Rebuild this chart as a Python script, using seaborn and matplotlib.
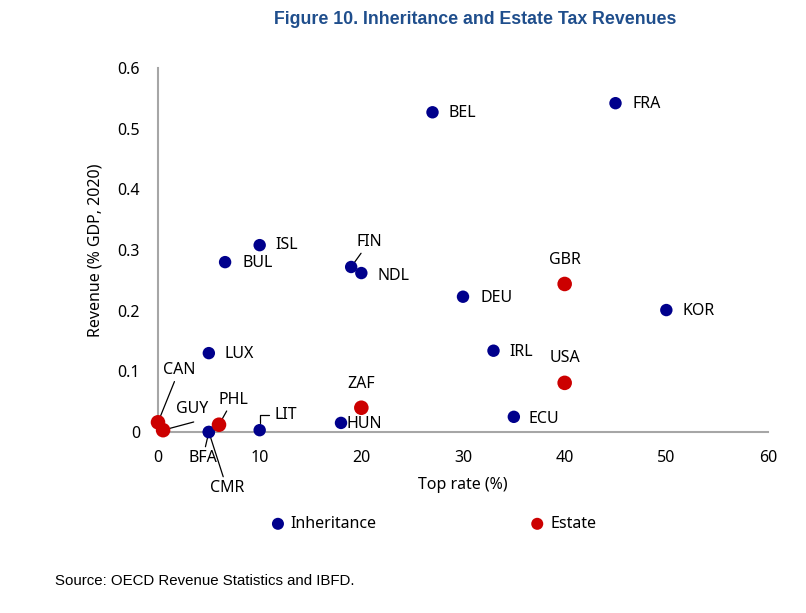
import matplotlib
matplotlib.use('Agg')
import matplotlib.pyplot as plt
import matplotlib.ticker as mticker
import pandas as pd
import seaborn as sns

sns.set_style("white")
plt.rcParams['font.family'] = ['Noto Sans', 'DejaVu Sans']
plt.rcParams['text.color'] = 'black'
plt.rcParams['axes.labelcolor'] = 'black'

# Data
inh_countries = ['BEL', 'FRA', 'ISL', 'BUL', 'FIN', 'NDL', 'DEU', 'KOR', 'LUX', 'IRL',
                 'ECU', 'HUN', 'LIT', 'BFA', 'CMR']
inh_rate = [27, 45, 10, 6.6, 19, 20, 30, 50, 5, 33, 35, 18, 10, 5, 5]
inh_revenue = [0.527, 0.542, 0.308, 0.280, 0.272, 0.262, 0.223, 0.201, 0.130, 0.134,
               0.025, 0.015, 0.003, 0.0, 0.0]

est_countries = ['GBR', 'USA', 'ZAF', 'CAN', 'GUY', 'PHL']
est_rate = [40, 40, 20, 0, 0.5, 6]
est_revenue = [0.244, 0.081, 0.040, 0.016, 0.003, 0.012]

df = pd.concat([
    pd.DataFrame({'country': inh_countries, 'rate': inh_rate,
                  'revenue': inh_revenue, 'type': 'Inheritance'}),
    pd.DataFrame({'country': est_countries, 'rate': est_rate,
                  'revenue': est_revenue, 'type': 'Estate'}),
], ignore_index=True)

blue = '#00008C'
red = '#CC0000'
grey = '#A6A6A6'

fig = plt.figure(figsize=(8.06, 6.13), dpi=100)
ax = fig.add_axes([158 / 806, 1 - 432 / 613, 610 / 806, 364 / 613])

sns.scatterplot(data=df[df['type'] == 'Inheritance'], x='rate', y='revenue',
                color=blue, s=80, edgecolor='none', label='Inheritance', ax=ax, zorder=3)
sns.scatterplot(data=df[df['type'] == 'Estate'], x='rate', y='revenue',
                color=red, s=110, edgecolor='none', label='Estate', ax=ax, zorder=3)

# label offsets in pixels (dx, dy, ha, leader line)
offsets = {
    'BEL': (16, -1, 'left', None), 'FRA': (17, -1, 'left', None),
    'ISL': (16, 0, 'left', None), 'BUL': (17, -1, 'left', None),
    'FIN': (18, 25, 'center', 'line'), 'NDL': (16, -3, 'left', None),
    'DEU': (17, -1, 'left', None), 'KOR': (16, -1, 'left', None),
    'LUX': (16, -1, 'left', None), 'IRL': (16, -1, 'left', None),
    'ECU': (15, -2, 'left', None), 'HUN': (6, -1, 'left', None),
    'LIT': (15, 15, 'left', 'angle'), 'BFA': (-6, -26, 'center', 'line'),
    'CMR': (18, -56, 'center', 'line'), 'CAN': (21, 52, 'center', 'line'),
    'GUY': (29, 21, 'center', 'line'), 'PHL': (14, 25, 'center', 'line'),
    'GBR': (0, 24, 'center', None), 'USA': (0, 25, 'center', None),
    'ZAF': (0, 24, 'center', None),
}

for _, r in df.iterrows():
    dx, dy, ha, lead = offsets[r['country']]
    arrow = None
    if lead == 'line':
        arrow = dict(arrowstyle='-', color='black', lw=0.9, shrinkA=0, shrinkB=1)
        if r['country'] == 'GUY':
            arrow['relpos'] = (0.55, -0.3)
    elif lead == 'angle':
        arrow = dict(arrowstyle='-', color='black', lw=0.9, shrinkA=2, shrinkB=5,
                     connectionstyle='angle,angleA=0,angleB=90,rad=0', relpos=(0, 0.5))
    ax.annotate(r['country'], (r['rate'], r['revenue']), xytext=(dx, dy),
                textcoords='offset pixels', ha=ha, va='center', fontsize=11.5,
                arrowprops=arrow, zorder=2)

ax.set_xlim(0, 60)
ax.set_ylim(0, 0.6)
ax.set_xticks(range(0, 61, 10))
ax.set_yticks([0, 0.1, 0.2, 0.3, 0.4, 0.5, 0.6])
ax.yaxis.set_major_formatter(mticker.FuncFormatter(lambda v, p: '0' if v == 0 else f'{v:.1f}'))
ax.tick_params(direction='in', length=6, color=grey, width=1.2, labelsize=11.5, pad=13,
               labelcolor='black')
for side in ['top', 'right']:
    ax.spines[side].set_visible(False)
for side in ['left', 'bottom']:
    ax.spines[side].set_color(grey)
    ax.spines[side].set_linewidth(1.5)
for c in ax.collections:
    c.set_clip_on(False)

ax.set_xlabel('Top rate (%)', fontsize=11.5, labelpad=8)
ax.set_ylabel('Revenue (% GDP, 2020)', fontsize=11.5, labelpad=10)

sns.move_legend(ax, 'center', bbox_to_anchor=(429 / 806, 1 - 524 / 613),
                bbox_transform=fig.transFigure, ncol=2, frameon=False,
                columnspacing=9.05, handletextpad=-0.2, fontsize=11.5)
for h in ax.get_legend().legend_handles:
    h.set_sizes([75])

fig.text(475 / 806, 1 - 20 / 613, 'Figure 10. Inheritance and Estate Tax Revenues',
         ha='center', va='center', fontsize=12.8, fontweight='bold', color='#1F4E8C',
         family=['Liberation Sans Narrow', 'Liberation Sans', 'DejaVu Sans'])
fig.text(55 / 806, 1 - 581 / 613, 'Source: OECD Revenue Statistics and IBFD.',
         ha='left', va='center', fontsize=10.8,
         family=['Liberation Sans', 'DejaVu Sans'])

fig.savefig('out.png', dpi=100)
